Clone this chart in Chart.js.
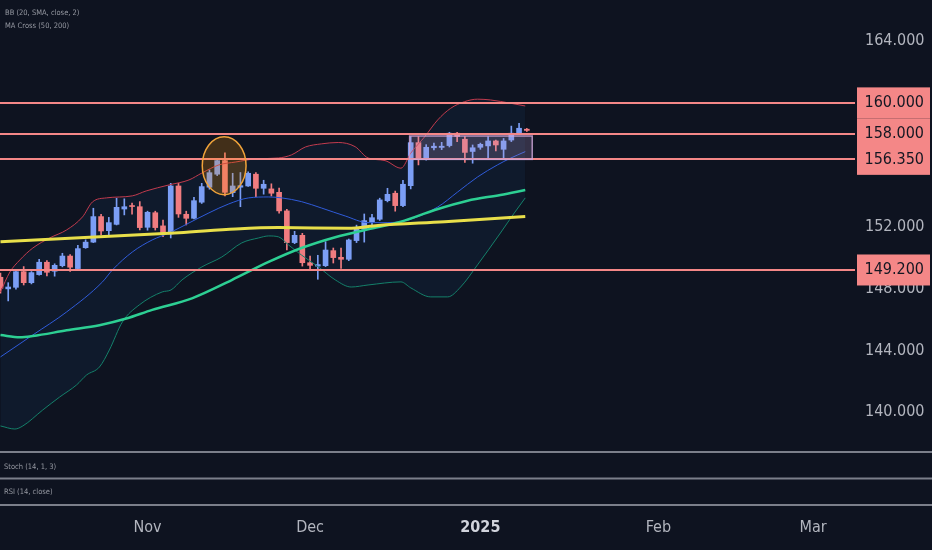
<!DOCTYPE html>
<html>
<head>
<meta charset="utf-8">
<script src="https://cdn.jsdelivr.net/npm/chart.js@4.4.1/dist/chart.umd.min.js"></script>
<style>
  html, body { margin: 0; padding: 0; background: #0e1320; }
  #wrap { width: 932px; height: 550px; position: relative; }
</style>
</head>
<body>
<div id="wrap"><canvas id="usdjpy"></canvas></div>
<script>
// daily candles, bar 0 = Oct 7 2024, Nov 1 = bar 19
const opens  = [148.73,147.98,148.08,149.09,148.38,148.90,149.70,149.12,149.48,150.10,149.29,150.64,151.00,152.65,151.74,152.15,153.14,153.35,153.29,151.96,152.90,152.05,151.53,154.63,152.80,152.54,153.58,154.55,155.39,156.27,154.20,154.55,154.63,155.39,154.48,154.44,154.22,153.02,150.97,151.44,149.67,149.45,149.48,150.45,150.02,149.89,151.10,151.83,152.32,152.48,153.68,154.16,153.36,154.65,157.43,156.36,157.10,157.12,157.24,158.04,157.65,156.86,157.13,157.22,157.54,157.00,157.60,158.04,158.30];
const highs  = [149.00,148.38,149.25,149.42,149.10,149.89,149.80,149.60,150.28,150.20,150.80,151.15,153.19,152.80,152.60,153.83,153.80,153.53,153.62,153.00,153.00,152.43,154.80,154.80,153.00,153.90,154.80,155.67,156.40,156.78,155.45,155.50,155.55,155.50,155.00,154.77,154.50,153.12,151.70,151.57,150.10,150.15,151.03,150.62,150.62,151.20,152.10,152.82,152.80,153.84,154.48,154.30,155.00,157.82,157.82,157.30,157.40,157.45,158.10,158.10,157.82,157.28,157.40,157.82,157.60,157.70,158.50,158.68,158.35];
const lows   = [147.70,147.20,147.96,148.23,148.30,148.86,148.81,148.80,149.40,149.10,149.20,150.60,150.97,151.46,151.40,152.11,152.76,152.80,151.79,151.77,151.78,151.35,151.27,152.60,152.11,152.50,153.50,154.42,155.30,153.98,153.94,153.29,154.60,153.94,154.10,153.98,152.87,150.50,150.90,149.45,149.20,148.60,149.42,149.65,149.30,149.80,150.97,151.00,151.90,152.40,153.60,153.00,153.30,154.44,155.99,156.30,156.96,156.98,157.15,157.50,156.15,156.10,157.00,156.40,156.90,156.40,157.50,157.94,158.15];
const closes = [148.02,148.10,149.09,148.38,149.03,149.70,149.05,149.50,150.10,149.38,150.58,151.00,152.65,151.72,152.26,153.25,153.29,153.30,151.94,152.93,151.94,151.57,154.63,152.82,152.54,153.68,154.59,155.49,156.27,154.22,154.63,154.65,155.45,154.48,154.74,154.16,153.02,150.97,151.44,149.67,149.50,149.55,150.49,150.00,149.89,151.14,151.90,152.39,152.58,153.73,154.09,153.36,154.74,157.43,156.38,157.13,157.20,157.20,158.04,157.83,156.80,157.10,157.32,157.54,157.28,157.54,158.04,158.36,158.22];

// indicator lines: [bar, price]
const bbUpperPts = [[0,147.78],[1.22,149.07],[2.51,149.85],[4.18,150.62],[6.36,151.27],[8.55,151.79],[10.6,152.63],[11.89,153.60],[13.69,153.86],[17.03,153.99],[18.83,154.31],[21.79,154.70],[24.36,155.02],[26.03,155.47],[28.21,155.99],[30.4,156.18],[32.97,156.38],[35.93,156.44],[37.6,156.64],[39.4,157.15],[41.45,157.35],[43.64,157.44],[45.82,157.17],[47.49,156.44],[49.68,156.27],[51.74,155.78],[53.02,156.76],[54.82,157.82],[56.49,158.90],[58.16,159.65],[59.96,160.08],[61.63,160.24],[63.3,160.19],[65.87,159.98],[67.8,159.80]];
const bbBasisPts = [[0,143.58],[4.18,145.00],[8.55,146.49],[13.18,148.43],[14.46,149.20],[17.03,150.36],[19.6,151.14],[21.79,151.59],[24.36,152.24],[26.93,152.89],[29.5,153.47],[32.07,153.86],[34.64,153.92],[36.31,153.86],[38.88,153.62],[41.45,153.21],[44.54,152.69],[47.49,152.26],[50.06,152.26],[52.63,152.43],[56.49,153.27],[59.06,154.24],[61.63,155.21],[64.2,155.99],[65.87,156.42],[67.8,156.85]];
const bbLowerPts = [[0,139.12],[1.86,138.92],[2.89,139.12],[5.46,140.15],[7.65,140.99],[9.83,141.77],[11.12,142.41],[12.79,142.93],[14.07,144.03],[15.75,145.84],[17.93,146.94],[20.89,147.78],[22.04,147.91],[23.46,148.56],[26.03,149.40],[28.6,150.04],[31.17,150.95],[33.35,151.27],[34.64,151.40],[35.93,151.34],[37.21,150.82],[38.88,150.17],[41.07,149.40],[43.25,148.56],[45.31,148.10],[47.49,148.23],[51.74,148.43],[53.02,148.04],[55.59,147.46],[57.78,147.46],[59.45,148.10],[61.63,149.53],[64.59,151.59],[66.39,152.89],[67.8,153.86]];
const ma50Pts  = [[0,145.00],[2.51,144.85],[4.18,144.93],[8.55,145.30],[12.79,145.63],[16.26,146.06],[19.6,146.62],[24.74,147.37],[29.88,148.55],[34.64,149.72],[38.88,150.62],[43.25,151.32],[47.49,151.83],[51.74,152.32],[56.11,153.08],[60.35,153.68],[64.59,154.05],[67.8,154.37]];
const ma200Pts = [[0,151.03],[23.07,151.61],[30.4,151.85],[35.93,151.94],[44.92,151.90],[48.78,152.08],[57.39,152.32],[67.8,152.65]];

const levels = [160, 158, 156.35, 149.2];
const yTicks = [140, 144, 148, 152, 156, 160, 164];
const timeTickIdx = [19, 40, 62, 85, 105];
const timeTickLabels = ["Nov", "Dec", "2025", "Feb", "Mar"];

// drawings on the chart
const zone = { from: 52.86, to: 68.7, bottom: 156.35, top: 157.86 };
const mark = { i: 28.9, p: 155.94, di: 2.83, dp: 1.87 };

const FONT = '"Liberation Sans Narrow", "DejaVu Sans Condensed", "Liberation Sans", sans-serif';
const BG = "#0e1320";
const UP = "#7b9ef5";
const DOWN = "#f07c80";
const LEVEL = "#f48787";
const AXIS_TEXT = "#b2b5be";

function candleColor(i) {
  return closes[i] >= opens[i] ? UP : DOWN;
}

function lineSet(pts, color, width, order, extra) {
  return Object.assign({
    type: "line",
    data: pts.map(function (p) { return { x: p[0], y: p[1] }; }),
    borderColor: color,
    borderWidth: width,
    pointRadius: 0,
    cubicInterpolationMode: "monotone",
    fill: false,
    order: order,
  }, extra || {});
}

function noPadding(s) {
  s.paddingTop = 0;
  s.paddingBottom = 0;
  s.paddingLeft = 0;
  s.paddingRight = 0;
}

const background = {
  id: "background",
  beforeDraw(chart) {
    const ctx = chart.ctx;
    ctx.save();
    ctx.fillStyle = BG;
    ctx.fillRect(0, 0, chart.width, chart.height);
    ctx.restore();
  },
};

const drawings = {
  id: "drawings",
  afterDatasetsDraw(chart) {
    const { ctx, chartArea: a } = chart;
    const x = chart.scales.x, y = chart.scales.y;
    ctx.save();
    ctx.beginPath();
    ctx.rect(a.left, a.top, a.right - a.left, a.bottom - a.top);
    ctx.clip();

    // horizontal levels
    ctx.strokeStyle = LEVEL;
    ctx.lineWidth = 2;
    levels.forEach(function (v) {
      const py = Math.round(y.getPixelForValue(v));
      ctx.beginPath();
      ctx.moveTo(a.left, py);
      ctx.lineTo(a.right, py);
      ctx.stroke();
    });

    // consolidation box
    const x0 = x.getPixelForValue(zone.from), x1 = x.getPixelForValue(zone.to);
    const y0 = y.getPixelForValue(zone.top), y1 = y.getPixelForValue(zone.bottom);
    ctx.fillStyle = "rgba(190,160,210,0.22)";
    ctx.fillRect(x0, y0, x1 - x0, y1 - y0);
    ctx.strokeStyle = "rgba(205,165,215,0.85)";
    ctx.lineWidth = 1.5;
    ctx.strokeRect(x0, y0, x1 - x0, y1 - y0);

    // top marker
    const cx = x.getPixelForValue(mark.i), cy = y.getPixelForValue(mark.p);
    const rx = Math.abs(x.getPixelForValue(mark.i + mark.di) - cx);
    const ry = Math.abs(y.getPixelForValue(mark.p + mark.dp) - cy);
    ctx.beginPath();
    ctx.ellipse(cx, cy, rx, ry, 0, 0, Math.PI * 2);
    ctx.fillStyle = "rgba(255,152,0,0.22)";
    ctx.fill();
    ctx.strokeStyle = "#f0a33a";
    ctx.lineWidth = 1.5;
    ctx.stroke();
    ctx.restore();
  },
};

const panes = {
  id: "panes",
  afterDraw(chart) {
    const ctx = chart.ctx;
    const y = chart.scales.y;
    ctx.save();

    // pane separators
    ctx.strokeStyle = "#7b7f8a";
    ctx.lineWidth = 2;
    [452, 478.5, 505].forEach(function (py) {
      ctx.beginPath();
      ctx.moveTo(0, py);
      ctx.lineTo(chart.width, py);
      ctx.stroke();
    });

    // indicator titles
    ctx.fillStyle = "#9598a1";
    ctx.font = "7.5px " + FONT;
    ctx.textAlign = "left";
    ctx.textBaseline = "middle";
    ctx.fillText("BB (20, SMA, close, 2)", 5, 13);
    ctx.fillText("MA Cross (50, 200)", 5, 26);
    ctx.fillText("Stoch (14, 1, 3)", 4, 467);
    ctx.fillText("RSI (14, close)", 4, 492);

    // level labels on the price scale
    ctx.fillStyle = LEVEL;
    levels.forEach(function (v) {
      const py = y.getPixelForValue(v);
      ctx.fillRect(857, py - 15.5, 73, 31);
    });
    ctx.fillStyle = "#131722";
    ctx.font = "16px " + FONT;
    ctx.textAlign = "right";
    levels.forEach(function (v) {
      ctx.fillText(v.toFixed(3), 924, y.getPixelForValue(v));
    });
    ctx.restore();
  },
};

const ctx = document.getElementById("usdjpy").getContext("2d");
const chart = new Chart(ctx, {
  type: "bar",
  plugins: [background, drawings, panes],
  data: {
    datasets: [
      lineSet(ma200Pts, "#e8df4a", 3, 0),
      lineSet(ma50Pts, "#2dcf93", 2.5, 1),
      lineSet(bbUpperPts, "#c23b4e", 1, 3, {
        fill: { target: 4, above: "rgba(33,150,243,0.06)", below: "rgba(33,150,243,0.06)" },
      }),
      lineSet(bbBasisPts, "#2f5bd9", 1, 2),
      lineSet(bbLowerPts, "#14806a", 1, 4),
      {
        type: "bar",
        data: opens.map(function (o, i) { return { x: i, y: [lows[i], highs[i]] }; }),
        backgroundColor: function (c) { return candleColor(c.dataIndex); },
        barThickness: 1,
        grouped: false,
        order: 11,
      },
      {
        type: "bar",
        data: opens.map(function (o, i) { return { x: i, y: [opens[i], closes[i]] }; }),
        backgroundColor: function (c) { return candleColor(c.dataIndex); },
        barThickness: 5,
        minBarLength: 1,
        grouped: false,
        order: 10,
      },
    ],
  },
  options: {
    responsive: true,
    maintainAspectRatio: false,
    animation: false,
    layout: { padding: 0 },
    plugins: {
      legend: { display: false },
      tooltip: { enabled: false },
      filler: { drawTime: "beforeDatasetsDraw" },
    },
    scales: {
      x: {
        type: "linear",
        min: -0.06,
        max: 110.4,
        offset: false,
        afterBuildTicks: function (s) {
          s.ticks = timeTickIdx.map(function (v) { return { value: v }; });
        },
        afterFit: function (s) { s.height = 45; noPadding(s); },
        grid: { display: false, drawTicks: false },
        border: { display: false },
        ticks: {
          autoSkip: false,
          maxRotation: 0,
          padding: 13,
          color: function (c) { return c.index === 2 ? "#d1d4dc" : AXIS_TEXT; },
          font: function (c) {
            return { family: FONT, size: 16, weight: c.index === 2 ? "bold" : "normal" };
          },
          callback: function (v) { return timeTickLabels[timeTickIdx.indexOf(v)]; },
        },
      },
      y: {
        position: "right",
        min: 134.01,
        max: 166.65,
        afterBuildTicks: function (s) {
          s.ticks = yTicks.map(function (v) { return { value: v }; });
        },
        afterFit: function (s) { s.width = 77; noPadding(s); },
        grid: { display: false, drawTicks: false },
        border: { display: false },
        ticks: {
          crossAlign: "near",
          padding: 10,
          color: AXIS_TEXT,
          font: { family: FONT, size: 16 },
          callback: function (v) { return v.toFixed(3); },
        },
      },
    },
  },
});
</script>
</body>
</html>
